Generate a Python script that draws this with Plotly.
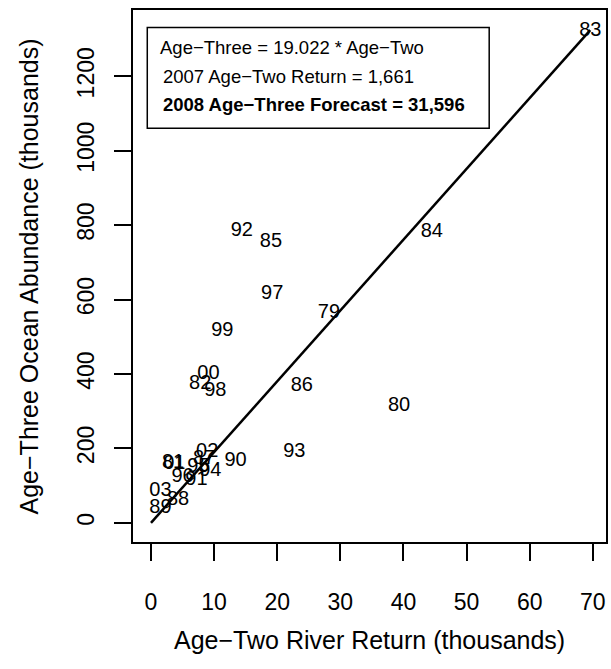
import plotly.graph_objects as go

# Data: brood years (labels), age-two river return (thousands), age-three ocean abundance (thousands)
years = ["79", "80", "81", "82", "83", "84", "85", "86", "87", "88", "89", "90",
         "91", "92", "93", "94", "95", "96", "97", "98", "99", "00", "01", "02", "03"]
age_two = [28.2, 39.3, 3.5, 7.8, 69.6, 44.5, 19.0, 23.9, 8.4, 4.3, 1.5, 13.4,
           7.2, 14.4, 22.7, 9.4, 7.5, 5.0, 19.2, 10.2, 11.3, 9.1, 3.7, 8.9, 1.5]
age_three = [564, 315, 162, 374, 1322, 781, 755, 368, 172, 62, 41, 166,
             116, 785, 191, 140, 151, 124, 615, 355, 516, 400, 159, 191, 85]

slope = 19.022
fit_x = [0, 69.6]
fit_y = [slope * v for v in fit_x]

x_ticks = [0, 10, 20, 30, 40, 50, 60, 70]
y_ticks = [0, 200, 400, 600, 800, 1000, 1200]

box_lines = ["Age\u2212Three = 19.022 * Age\u2212Two",
             "2007 Age\u2212Two Return = 1,661",
             "<b>2008 Age\u2212Three Forecast = 31,596</b>"]

FONT = "Liberation Sans, Arial, Helvetica, sans-serif"

fig = go.Figure()
fig.add_trace(go.Scatter(x=fit_x, y=fit_y, mode="lines",
                         line=dict(color="black", width=2.5), hoverinfo="skip"))
fig.add_trace(go.Scatter(x=age_two, y=age_three, mode="text", text=years,
                         textposition="middle center",
                         textfont=dict(family=FONT, size=20, color="black")))

W, H = 611, 669
L, R, T, B = 132.7, 606.5, 9.5, 542.5

axis_common = dict(showgrid=False, zeroline=False, showline=True, mirror=True,
                   linecolor="black", linewidth=1.5, ticks="outside", ticklen=17,
                   tickwidth=1.5, tickcolor="black",
                   tickfont=dict(family=FONT, size=23, color="black"))

fig.update_layout(
    width=W, height=H,
    margin=dict(l=L, r=W - R, t=T, b=H - B, pad=0),
    paper_bgcolor="white", plot_bgcolor="white",
    showlegend=False,
    xaxis=dict(range=[-2.85, 72.09], tickvals=x_ticks,
               ticktext=[str(v) for v in x_ticks], ticklabelstandoff=22,
               **axis_common),
    yaxis=dict(range=[-51.5, 1378], tickvals=y_ticks,
               ticktext=[str(v) for v in y_ticks], tickangle=-90,
               ticklabelstandoff=11, **axis_common),
)

# legend-like box
px2x = lambda p: (p - L) / (R - L)
py2y = lambda p: (B - p) / (B - T)
fig.add_shape(type="rect", xref="paper", yref="paper",
              x0=px2x(147), x1=px2x(489.5), y0=py2y(128), y1=py2y(27),
              line=dict(color="black", width=1.5), fillcolor="white", layer="below")
for txt, px, py in zip(box_lines, [158, 161, 161], [47, 76, 104]):
    fig.add_annotation(xref="paper", yref="paper", x=px2x(px), y=py2y(py),
                       xanchor="left", yanchor="middle", showarrow=False,
                       text=txt, font=dict(family=FONT, size=18.5, color="black"))

# axis titles
fig.add_annotation(xref="paper", yref="paper", x=0.5, y=py2y(641),
                   xanchor="center", yanchor="middle", showarrow=False,
                   text="Age\u2212Two River Return (thousands)",
                   font=dict(family=FONT, size=25, color="black"))
fig.add_annotation(xref="paper", yref="paper", x=px2x(29), y=0.5,
                   xanchor="center", yanchor="middle", showarrow=False, textangle=-90,
                   text="Age\u2212Three Ocean Abundance (thousands)",
                   font=dict(family=FONT, size=25, color="black"))

fig.write_html("out.html")
